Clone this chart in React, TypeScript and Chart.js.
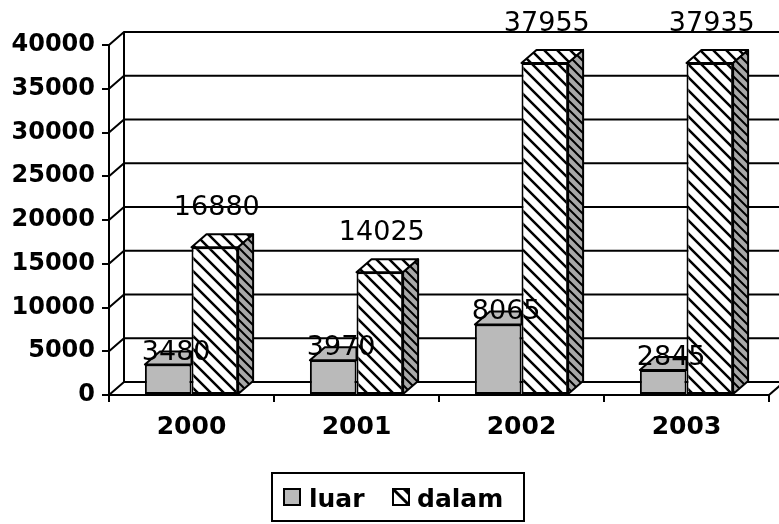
import React, { useEffect, useRef } from 'react';
import { Chart, registerables } from 'chart.js';

Chart.register(...registerables);

const categories = ['2000', '2001', '2002', '2003'];
const seriesNames = ['luar', 'dalam'];
const luarValues = [3480, 3970, 8065, 2845];
const dalamValues = [16880, 14025, 37955, 37935];
const yTicks = [0, 5000, 10000, 15000, 20000, 25000, 30000, 35000, 40000];

const FONT = '"DejaVu Sans", sans-serif';
const DX = 15;
const DY = 13;
const LUAR_GRAY = '#bababa';

function makeHatch(bg: string, size: number, lw: number): HTMLCanvasElement {
  const c = document.createElement('canvas');
  c.width = size;
  c.height = size;
  const g = c.getContext('2d')!;
  g.fillStyle = bg;
  g.fillRect(0, 0, size, size);
  g.strokeStyle = '#000';
  g.lineWidth = lw;
  g.beginPath();
  g.moveTo(-2, -2);
  g.lineTo(size + 2, size + 2);
  g.moveTo(-2, size - 2);
  g.lineTo(2, size + 2);
  g.moveTo(size - 2, -2);
  g.lineTo(size + 2, 2);
  g.stroke();
  return c;
}

export default function App() {
  const ref = useRef<HTMLCanvasElement>(null);

  useEffect(() => {
    document.body.style.margin = '0';
    const canvas = ref.current!;
    const c0 = canvas.getContext('2d')!;
    const frontPat = c0.createPattern(makeHatch('#ffffff', 13, 2.5), 'repeat')!;
    const sidePat = c0.createPattern(makeHatch('#a8a8a8', 9, 2), 'repeat')!;

    const depthPlugin = {
      id: 'depth3d',
      beforeDatasetsDraw(chart: any) {
        const { ctx, chartArea, scales } = chart;
        const y = scales.y;
        const L = chartArea.left;
        const R = chartArea.right;
        const W = chart.width;
        ctx.save();
        ctx.strokeStyle = '#000';
        ctx.lineWidth = 2;
        yTicks.forEach((v) => {
          const py = y.getPixelForValue(v);
          ctx.beginPath();
          ctx.moveTo(L, py);
          ctx.lineTo(L + DX, py - DY);
          ctx.lineTo(W, py - DY);
          ctx.stroke();
        });
        const y0 = y.getPixelForValue(yTicks[0]);
        const yMax = y.getPixelForValue(yTicks[yTicks.length - 1]);
        ctx.beginPath();
        ctx.moveTo(L + DX, y0 - DY);
        ctx.lineTo(L + DX, yMax - DY);
        ctx.stroke();
        ctx.beginPath();
        ctx.moveTo(R, y0);
        ctx.lineTo(R + DX, y0 - DY);
        ctx.stroke();
        ctx.restore();
      },
      afterDatasetsDraw(chart: any) {
        const { ctx } = chart;
        const mLuar = chart.getDatasetMeta(0);
        const mDalam = chart.getDatasetMeta(1);
        ctx.save();
        ctx.strokeStyle = '#000';
        ctx.lineWidth = 2;
        ctx.lineJoin = 'round';
        // luar top faces (right part hidden behind dalam)
        mLuar.data.forEach((el: any) => {
          const p = el.getProps(['x', 'y', 'base', 'width'], true);
          const l = p.x - p.width / 2;
          const r = p.x + p.width / 2;
          const t = p.y;
          ctx.beginPath();
          ctx.moveTo(l, t);
          ctx.lineTo(l + DX, t - DY);
          ctx.lineTo(r, t - DY);
          ctx.lineTo(r, t);
          ctx.closePath();
          ctx.fillStyle = LUAR_GRAY;
          ctx.fill();
          ctx.stroke();
        });
        // dalam top + side faces
        mDalam.data.forEach((el: any) => {
          const p = el.getProps(['x', 'y', 'base', 'width'], true);
          const l = p.x - p.width / 2;
          const r = p.x + p.width / 2;
          const t = p.y;
          const b = p.base;
          ctx.beginPath();
          ctx.moveTo(l, t);
          ctx.lineTo(l + DX, t - DY);
          ctx.lineTo(r + DX, t - DY);
          ctx.lineTo(r, t);
          ctx.closePath();
          ctx.fillStyle = frontPat;
          ctx.fill();
          ctx.stroke();
          ctx.beginPath();
          ctx.moveTo(r, t);
          ctx.lineTo(r + DX, t - DY);
          ctx.lineTo(r + DX, b - DY);
          ctx.lineTo(r, b);
          ctx.closePath();
          ctx.fillStyle = sidePat;
          ctx.fill();
          ctx.stroke();
        });
        // value labels
        ctx.fillStyle = '#000';
        ctx.font = `27px ${FONT}`;
        ctx.textAlign = 'center';
        ctx.textBaseline = 'alphabetic';
        mLuar.data.forEach((el: any, i: number) => {
          const p = el.getProps(['x', 'y'], true);
          ctx.fillText(String(luarValues[i]), p.x + 8, p.y - 5);
        });
        mDalam.data.forEach((el: any, i: number) => {
          const p = el.getProps(['x', 'y'], true);
          ctx.fillText(String(dalamValues[i]), p.x + 2, p.y - 32);
        });
        ctx.restore();
      },
      afterDraw(chart: any) {
        const { ctx } = chart;
        const ds = chart.data.datasets;
        ctx.save();
        ctx.strokeStyle = '#000';
        ctx.lineWidth = 2;
        ctx.strokeRect(272, 473, 252, 48);
        // luar swatch
        ctx.fillStyle = ds[0].backgroundColor;
        ctx.fillRect(284, 489, 16, 16);
        ctx.strokeRect(284, 489, 16, 16);
        ctx.font = `bold 25px ${FONT}`;
        ctx.textAlign = 'left';
        ctx.textBaseline = 'alphabetic';
        ctx.fillStyle = '#000';
        ctx.fillText(ds[0].label, 309, 507);
        // dalam swatch
        ctx.fillStyle = '#fff';
        ctx.fillRect(393, 489, 16, 16);
        ctx.beginPath();
        ctx.moveTo(393, 489);
        ctx.lineTo(409, 505);
        ctx.lineWidth = 3;
        ctx.stroke();
        ctx.fillStyle = '#000';
        ctx.beginPath();
        ctx.moveTo(402, 489);
        ctx.lineTo(409, 489);
        ctx.lineTo(409, 496);
        ctx.closePath();
        ctx.fill();
        ctx.lineWidth = 2;
        ctx.strokeRect(393, 489, 16, 16);
        ctx.fillStyle = '#000';
        ctx.fillText(ds[1].label, 417, 507);
        ctx.restore();
      },
    };

    const chart = new Chart(canvas, {
      type: 'bar',
      data: {
        labels: categories,
        datasets: [
          {
            label: seriesNames[0],
            data: luarValues,
            backgroundColor: LUAR_GRAY,
            borderColor: '#000',
            borderWidth: 2,
            borderSkipped: false,
            barPercentage: 1,
            categoryPercentage: 0.565,
          },
          {
            label: seriesNames[1],
            data: dalamValues,
            backgroundColor: frontPat as any,
            borderColor: '#000',
            borderWidth: 2,
            borderSkipped: false,
            barPercentage: 1,
            categoryPercentage: 0.565,
          },
        ],
      },
      options: {
        responsive: false,
        animation: false,
        layout: { padding: { top: 45, right: 10, bottom: 69, left: 0 } },
        plugins: { legend: { display: false }, tooltip: { enabled: false } },
        scales: {
          x: {
            grid: { display: true, drawOnChartArea: false, tickLength: 7, color: '#000', lineWidth: 2, offset: true },
            border: { color: '#000', width: 2 },
            ticks: { font: { family: FONT, size: 25, weight: 'bold' }, color: '#000', padding: 10 },
            afterFit(s: any) {
              s.height = 60;
            },
          },
          y: {
            min: yTicks[0],
            max: yTicks[yTicks.length - 1],
            afterBuildTicks(s: any) {
              s.ticks = yTicks.map((v) => ({ value: v }));
            },
            ticks: { callback: (v: any) => String(v), font: { family: FONT, size: 24, weight: 'bold' }, color: '#000', padding: 7 },
            grid: { drawOnChartArea: false, tickLength: 7, color: '#000', lineWidth: 2 },
            border: { color: '#000', width: 2 },
            afterFit(s: any) {
              s.width = 109;
            },
          },
        },
      },
      plugins: [depthPlugin],
    });
    return () => chart.destroy();
  }, []);

  return (
    <div style={{ width: 779, height: 524 }}>
      <canvas ref={ref} width={779} height={524} style={{ display: 'block' }} />
    </div>
  );
}
